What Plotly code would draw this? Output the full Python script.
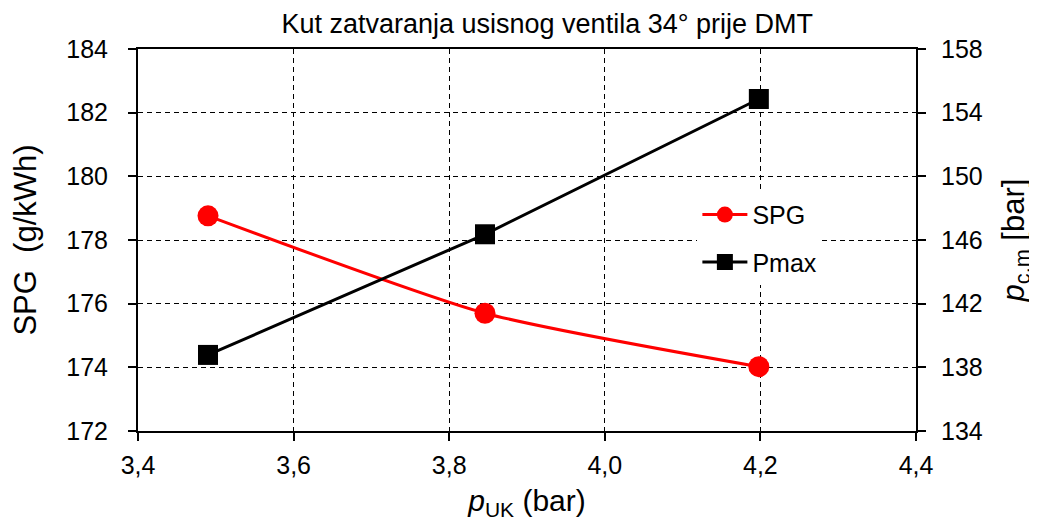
import plotly.graph_objects as go

p_uk = [3.49, 3.846, 4.198]
spg = [178.76, 175.70, 174.02]
pmax = [138.78, 146.36, 154.86]

x_ticks = [3.4, 3.6, 3.8, 4.0, 4.2, 4.4]
y1_ticks = [172, 174, 176, 178, 180, 182, 184]
y2_ticks = [134, 138, 142, 146, 150, 154, 158]

FONT = "Liberation Sans, Arial, sans-serif"

fig = go.Figure()
fig.add_trace(go.Scatter(
    x=p_uk, y=spg, name="SPG", mode="lines+markers", legendgroup="a",
    line=dict(color="#ff0000", width=3, shape="spline", smoothing=0.6),
    marker=dict(symbol="circle", size=21, color="#ff0000"),
    yaxis="y"))
fig.add_trace(go.Scatter(
    x=p_uk, y=pmax, name="Pmax", mode="lines+markers", legendgroup="b",
    line=dict(color="#000000", width=3),
    marker=dict(symbol="square", size=20, color="#000000"),
    yaxis="y2"))

axis_common = dict(
    showline=True, linecolor="black", linewidth=2,
    ticks="outside", ticklen=8, tickwidth=2, tickcolor="black",
    tickfont=dict(family=FONT, size=25, color="black"),
    zeroline=False, automargin=False,
)

fig.update_layout(
    width=1037, height=520,
    paper_bgcolor="white", plot_bgcolor="white",
    separators=", ",
    margin=dict(l=130, r=129, t=41, b=97),
    font=dict(family=FONT, color="black"),
    title=dict(text="Kut zatvaranja usisnog ventila 34° prije DMT",
               x=0.526, xanchor="center", xref="paper", y=0.97, yanchor="middle",
               font=dict(family=FONT, size=27, color="black")),
    xaxis=dict(
        range=[3.4, 4.4], tickvals=x_ticks, tickformat=".1f",
        showgrid=True, gridcolor="black", gridwidth=1, griddash="5px,4px",
        mirror=True, ticklabelstandoff=3,
        title=dict(text="<i>p</i><sub>UK</sub> (bar)", standoff=12,
                   font=dict(family=FONT, size=30, color="black")),
        **axis_common),
    yaxis=dict(
        range=[172, 184], tickvals=y1_ticks,
        showgrid=True, gridcolor="black", gridwidth=1, griddash="5px,4px",
        ticklabelstandoff=15,
        title=dict(text="SPG  (g/kWh)", standoff=20,
                   font=dict(family=FONT, size=31, color="black")),
        **axis_common),
    yaxis2=dict(
        range=[134, 158], tickvals=y2_ticks, overlaying="y", side="right",
        showgrid=False, ticklabelstandoff=10,
        title=dict(text="<i>p</i><sub>c,m</sub> [bar]", standoff=20,
                   font=dict(family=FONT, size=31, color="black")),
        **axis_common),
    legend=dict(
        x=0.719, y=0.626, xanchor="left", yanchor="top",
        bgcolor="white", borderwidth=0,
        font=dict(family=FONT, size=25, color="black"),
        traceorder="grouped", tracegroupgap=12, itemwidth=45,
    ),
)

fig.write_html("out.html")
